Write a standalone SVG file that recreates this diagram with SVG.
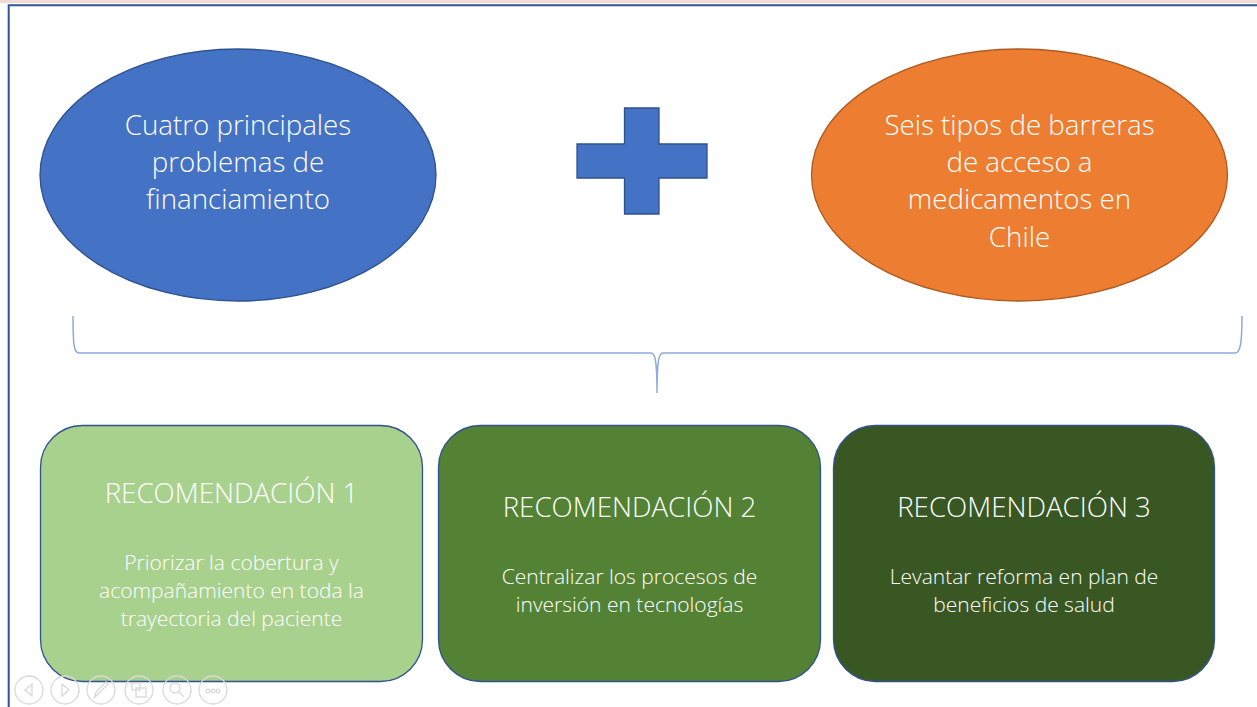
<svg xmlns="http://www.w3.org/2000/svg" width="1257" height="707" viewBox="0 0 1257 707">
<style>
.t{font-family:"Open Sans","Noto Sans","Liberation Sans",sans-serif;fill:#fff;text-anchor:middle;font-weight:300}
.big{font-size:27.7px}
.ttl{font-size:27.7px}
.body{font-size:21px}
.box{stroke:#2F528F;stroke-width:1.3}
.ic{fill:none;stroke:#d9d9d9;stroke-width:1.3}
</style>
<rect x="0" y="0" width="1257" height="707" fill="#fff"/>
<rect x="0" y="0" width="1257" height="3" fill="#F4D9D9"/>
<path d="M8.7 707 V5.2 H1257" fill="none" stroke="#2F5597" stroke-width="2"/>
<g id="ellipse-financiamiento">
<ellipse cx="238" cy="175" rx="198" ry="126" fill="#4472C4" stroke="#2F528F" stroke-width="1.3"/>
<text class="t big" x="238" y="135">Cuatro principales</text>
<text class="t big" x="238" y="172">problemas de</text>
<text class="t big" x="238" y="209">financiamiento</text>
</g>
<g id="plus">
<path d="M624.5 108 H659 V144 H707 V178 H659 V214 H624.5 V178 H577 V144 H624.5 Z" fill="#4472C4" stroke="#2F528F" stroke-width="1.3"/>
</g>
<g id="ellipse-barreras">
<ellipse cx="1019.5" cy="175" rx="208" ry="126" fill="#ED7D31" stroke="#AE5A21" stroke-width="1.3"/>
<text class="t big" x="1019.5" y="135">Seis tipos de barreras</text>
<text class="t big" x="1019.5" y="172">de acceso a</text>
<text class="t big" x="1019.5" y="209">medicamentos en</text>
<text class="t big" x="1019.5" y="247">Chile</text>
</g>
<g id="connectors">
<path d="M73 316 C73 345 74 353 79 353 H651 C655 353 657 360 657 393 C657 360 659 353 663 353 H1235 C1240 353 1242 345 1242 316" fill="none" stroke="#8FAADC" stroke-width="1.5"/>
</g>
<g id="rec1">
<rect class="box" x="40.5" y="425.5" width="382" height="256" rx="42" fill="#A9D18E"/>
<text class="t ttl" x="231.5" y="503">RECOMENDACIÓN 1</text>
<text class="t body" x="231.5" y="570">Priorizar la cobertura y</text>
<text class="t body" x="231.5" y="598">acompañamiento en toda la</text>
<text class="t body" x="231.5" y="626">trayectoria del paciente</text>
</g>
<g id="rec2">
<rect class="box" x="438.5" y="425.5" width="382" height="256" rx="42" fill="#548235"/>
<text class="t ttl" x="629.5" y="517">RECOMENDACIÓN 2</text>
<text class="t body" x="629.5" y="584">Centralizar los procesos de</text>
<text class="t body" x="629.5" y="612">inversión en tecnologías</text>
</g>
<g id="rec3">
<rect class="box" x="833.5" y="425.5" width="381" height="256" rx="42" fill="#385723"/>
<text class="t ttl" x="1024" y="517">RECOMENDACIÓN 3</text>
<text class="t body" x="1024" y="584">Levantar reforma en plan de</text>
<text class="t body" x="1024" y="612">beneficios de salud</text>
</g>
<g id="toolbar">
<circle class="ic" cx="29" cy="690" r="14"/>
<path class="ic" d="M32 684 L25 690 L32 696 Z"/>
<circle class="ic" cx="65" cy="690" r="14"/>
<path class="ic" d="M62 684 L69 690 L62 696 Z"/>
<circle class="ic" cx="101" cy="690" r="14"/>
<path class="ic" d="M94 698 L96 692 L106 682 L108 684 L98 694 Z"/>
<circle class="ic" cx="139" cy="690" r="14"/>
<rect class="ic" x="132" y="683" width="8" height="7"/>
<rect class="ic" x="136" y="688" width="10" height="9"/>
<circle class="ic" cx="177" cy="690" r="14"/>
<circle class="ic" cx="175" cy="688" r="5"/>
<path class="ic" d="M179 692 L184 697" stroke-width="2.5"/>
<circle class="ic" cx="213" cy="690" r="14"/>
<circle class="ic" cx="208" cy="691" r="1.8"/>
<circle class="ic" cx="213" cy="691" r="1.8"/>
<circle class="ic" cx="218" cy="691" r="1.8"/>
</g>
</svg>
